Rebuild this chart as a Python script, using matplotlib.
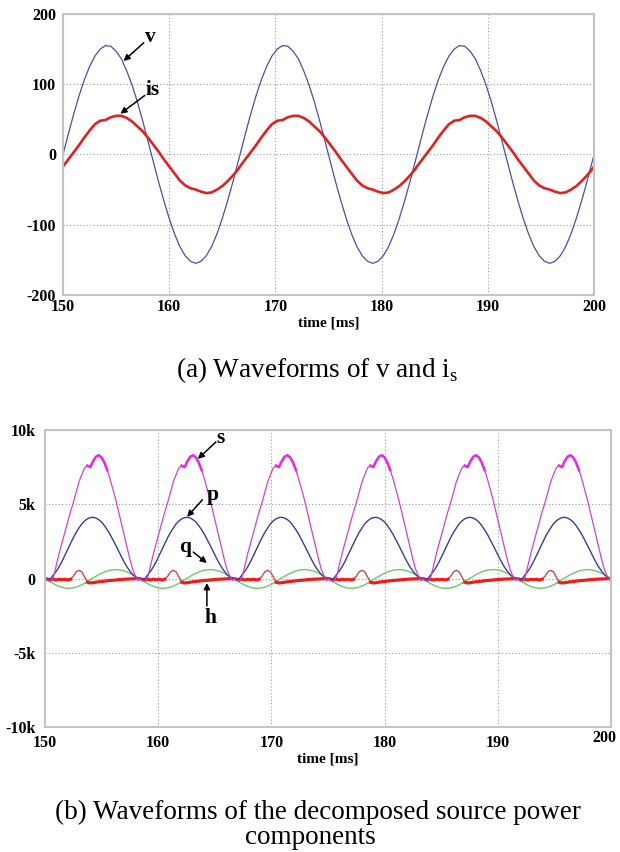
import matplotlib.pyplot as plt
import matplotlib.transforms as mtransforms
import numpy as np

plt.rcParams["font.family"] = ["Liberation Serif", "DejaVu Serif"]
plt.rcParams["mathtext.fontset"] = "custom"
plt.rcParams["mathtext.rm"] = "Liberation Serif"

T0 = 150.0
LINE_PERIOD = 50.0 / 3  # ms, 60 Hz
POWER_PERIOD = LINE_PERIOD / 2

# (a) one line cycle, every 0.5 ms from 150 ms
PHASE_A = np.arange(0, 16.75, 0.5)
V = [0, 29, 57, 83, 106, 125, 140, 150, 155, 154, 147, 136, 119, 99, 75,
     48, 19, -10, -39, -66, -91, -113, -131, -144, -152, -155, -152, -144,
     -131, -113, -91, -66, -39, -10]
I_S = [-17, -7, 3, 13, 24, 34, 43, 48, 49, 53, 55, 55, 52, 47, 40, 33, 24,
       14, 4, -7, -17, -27, -37, -44, -48, -50, -53, -55, -54, -50, -45,
       -38, -30, -21]

# (b) one power cycle (k units), every 0.25 ms from 150 ms
PHASE_B = np.arange(0, 8.5, 0.25)
S = [0.0, -0.15, -0.2, 0.1, 0.9, 1.7, 2.4, 3.1, 3.8, 4.5, 5.1, 5.8, 6.5,
     7.0, 7.45, 7.6, 7.5, 7.9, 8.2, 8.3, 8.15, 7.8, 7.3, 6.7, 6.0, 5.3,
     4.5, 3.7, 2.9, 2.1, 1.3, 0.6, 0.15, -0.15]
P = [0.0, -0.08, 0.0, 0.26, 0.5, 0.8, 1.15, 1.55, 1.95, 2.35, 2.75, 3.1,
     3.4, 3.68, 3.88, 4.02, 4.1, 4.12, 4.07, 3.96, 3.8, 3.56, 3.28, 2.97,
     2.61, 2.24, 1.85, 1.47, 1.1, 0.77, 0.5, 0.26, 0.09, 0.02]
Q = [0.0, -0.12, -0.24, -0.35, -0.45, -0.53, -0.6, -0.64, -0.66, -0.65,
     -0.63, -0.58, -0.51, -0.42, -0.32, -0.2, -0.08, 0.04, 0.15, 0.26,
     0.35, 0.44, 0.51, 0.56, 0.59, 0.6, 0.59, 0.56, 0.51, 0.44, 0.35, 0.26,
     0.15, 0.04]
H = [0.0, -0.05, -0.08, -0.05, -0.1, -0.05, -0.08, -0.05, -0.1, -0.05,
     0.15, 0.45, 0.55, 0.45, 0.1, -0.25, -0.3, -0.28, -0.25, -0.22, -0.2,
     -0.18, -0.15, -0.13, -0.12, -0.1, -0.08, -0.07, -0.05, -0.04, -0.03,
     -0.02, -0.01, 0.0]

TIME_TICKS = [150, 160, 170, 180, 190, 200]
A_TICKS = [-200, -100, 0, 100, 200]
B_TICKS = [-10, -5, 0, 5, 10]
B_TICK_LABELS = ["-10k", "-5k", "0", "5k", "10k"]


def repeat_cycles(phase, values, period, count):
    """Lay the same recorded cycle end to end from T0"""
    t = np.concatenate([T0 + phase + k * period for k in range(count)])
    y = np.tile(np.asarray(values, dtype=float), count)
    ph = np.tile(phase, count)
    return t, y, ph


def style_axes(ax, yticks, ylabels, xpad, ypad):
    ax.set_xlim(150, 200)
    ax.set_xticks(TIME_TICKS)
    ax.set_yticks(yticks)
    ax.set_yticklabels(ylabels)
    ax.set_ylim(yticks[0], yticks[-1])
    ax.grid(True, color="#9a9a9a", linestyle=(0, (1, 2)), linewidth=0.8)
    for side in ax.spines.values():
        side.set_color("#c4c4c4")
        side.set_linewidth(1.5)
    ax.tick_params(length=0, labelsize=11.5)
    ax.tick_params(axis="x", pad=xpad)
    ax.tick_params(axis="y", pad=ypad)
    for lab in ax.get_xticklabels() + ax.get_yticklabels():
        lab.set_fontweight("bold")
    ax.set_xlabel("time [ms]", fontsize=11, fontweight="bold", labelpad=1)


def arrow(ax, tail, head):
    ax.annotate("", xy=head, xytext=tail,
                arrowprops=dict(arrowstyle="-|>", color="black", lw=1.1,
                                mutation_scale=9, shrinkA=0, shrinkB=0))


def label(ax, x, y, s):
    ax.text(x, y, s, fontsize=15.5, fontweight="bold", ha="center",
            va="center")


fig = plt.figure(figsize=(6.2, 8.52), dpi=100)

# ---- (a) v and is
ax1 = fig.add_axes([0.1016, 0.6538, 0.8565, 0.3298])
t_v, v, _ = repeat_cycles(PHASE_A, V, LINE_PERIOD, 4)
t_i, i_s, _ = repeat_cycles(PHASE_A, I_S, LINE_PERIOD, 4)
ax1.plot(t_v, v, color="#4e4e9e", lw=0.9)
ax1.plot(t_i, i_s, color="#dd2222", lw=1.9)
style_axes(ax1, A_TICKS, [str(t) for t in A_TICKS], 3, 5)
label(ax1, 158.2, 167, "v")
arrow(ax1, (157.6, 159), (155.7, 133))
label(ax1, 158.4, 92, "is")
arrow(ax1, (157.7, 84), (155.4, 58))

# ---- (b) power components
ax2 = fig.add_axes([0.0726, 0.1467, 0.9129, 0.3486])
t_b, s, ph = repeat_cycles(PHASE_B, S, POWER_PERIOD, 7)
_, p, _ = repeat_cycles(PHASE_B, P, POWER_PERIOD, 7)
_, q, _ = repeat_cycles(PHASE_B, Q, POWER_PERIOD, 7)
_, h, _ = repeat_cycles(PHASE_B, H, POWER_PERIOD, 7)

ax2.plot(t_b, q, color="#66cc66", lw=1.0)
ax2.plot(t_b, h, color="#c84a4a", lw=1.0)
noisy_h = (ph < 2.4) | (ph > 3.6)
ax2.plot(t_b, np.where(noisy_h, h, np.nan), color="#ee1c1c", lw=2.3)
ax2.plot(t_b, p, color="#3c3c8c", lw=1.0)
ax2.plot(t_b, s, color="#cc44cc", lw=0.9)
noisy_s = (ph > 3.6) & (ph < 5.6)
ax2.plot(t_b, np.where(noisy_s, s, np.nan), color="#e030e0", lw=1.9)
style_axes(ax2, B_TICKS, B_TICK_LABELS, 6, 7)

# the last time label sits a little left and higher, inside the figure
last = ax2.get_xticklabels()[-1]
last.set_transform(last.get_transform() + mtransforms.ScaledTranslation(
    -5 / 72, 4 / 72, fig.dpi_scale_trans))

label(ax2, 165.5, 9.45, "s")
arrow(ax2, (165.1, 9.2), (163.5, 8.05))
label(ax2, 164.85, 5.6, "p")
arrow(ax2, (163.9, 5.3), (162.55, 4.15))
label(ax2, 162.4, 2.1, "q")
arrow(ax2, (163.1, 1.78), (164.3, 1.04))
label(ax2, 164.6, -2.65, "h")
arrow(ax2, (164.3, -1.85), (164.3, -0.3))

# ---- captions
fig.text(0.512, 0.566, "(a) Waveforms of v and i$_{\\mathrm{s}}$",
         fontsize=19.5, ha="center", va="center")
fig.text(0.513, 0.047, "(b) Waveforms of the decomposed source power",
         fontsize=19.5, ha="center", va="center")
fig.text(0.500, 0.0176, "components", fontsize=19.5, ha="center",
         va="center")

fig.savefig("out.png", dpi=100)
